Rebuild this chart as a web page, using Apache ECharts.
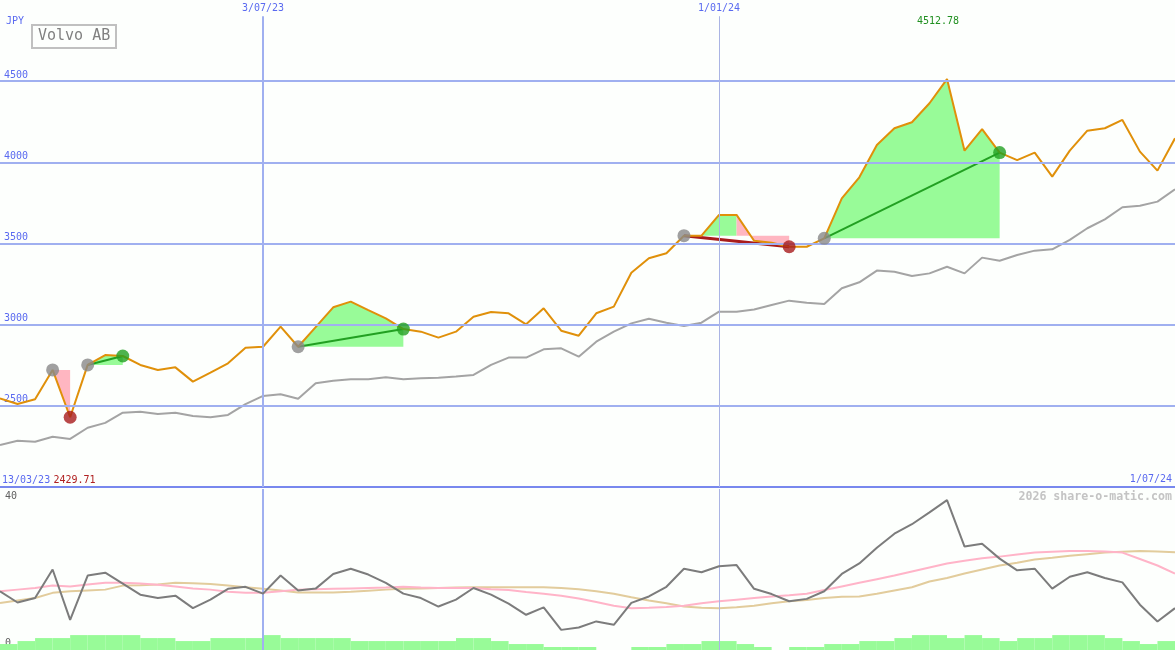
<!DOCTYPE html>
<html><head><meta charset="utf-8">
<script src="https://cdn.jsdelivr.net/npm/echarts@6/dist/echarts.min.js"></script>
<style>html,body{margin:0;padding:0;background:#fdfffd}#c{width:1175px;height:650px}</style>
</head><body><div id="c"></div>
<script>
// ---- data (weekly points, index 0 = first week) ----
const title = 'Volvo AB';
const currency = 'JPY';
const startDate = '13/03/23';
const endDate = '1/07/24';
const dateTickLabels = ['3/07/23', '1/01/24'];
const dateTickIndex = [15, 41];
const priceTicks = [2500, 3000, 3500, 4000, 4500];
const price = [2546,2511,2540,2721,2429.71,2752,2813,2807,2752,2721,2737,2649,2704,2762,2858,2864,2988,2864,2985,3107,
  3142,3090,3039,2973,2957,2920,2957,3049,3078,3070,3002,3101,2963,2932,3070,3111,3320,3409,3440,3548,
  3548,3676,3676,3517,3505,3480,3480,3532,3778,3908,4107,4210,4247,4364,4512.78,4072,4205,4060,4014,4060,
  3912,4072,4195,4210,4261,4066,3949,4148];
const priceMA = [2259,2285,2279,2310,2296,2365,2395,2458,2464,2450,2458,2437,2429,2444,2511,2561,2571,2544,2639,2655,
  2664,2664,2676,2664,2670,2673,2680,2690,2752,2797,2797,2848,2854,2803,2895,2957,3008,3037,3012,2992,
  3012,3080,3080,3094,3121,3148,3135,3127,3224,3261,3333,3326,3300,3316,3357,3316,3413,3394,3429,3456,
  3464,3522,3594,3649,3723,3733,3758,3834];
const segStart = [3, 5, 17, 39, 47];
const segEnd   = [4, 7, 23, 45, 57];
const segSplit = [3, 7, 23, 42, 57];
const osc = [14.6,11.8,12.9,20,7.5,18.5,19.2,16.5,13.75,12.9,13.5,10.4,12.5,15.2,15.7,14,18.5,14.8,15.25,18.9,
  20.2,18.75,16.7,14.0,12.9,10.8,12.5,15.4,13.75,11.5,8.75,10.6,5,5.6,7.1,6.25,11.7,13.3,15.7,20.2,
  19.3,20.8,21.1,15.2,13.9,12.1,12.7,14.6,18.9,21.5,25.4,28.9,31.25,34.2,37.25,25.7,26.4,22.7,19.8,20.2,
  15.25,18.2,19.3,17.9,16.8,11.25,7.1,10.4];
const oscFast = [14.6,15.0,15.4,16.0,15.8,16.25,16.7,16.7,16.5,16.2,15.8,15.3,15.0,14.5,14.2,14.2,14.6,15.0,15.1,15.2,
  15.3,15.4,15.5,15.7,15.5,15.4,15.4,15.4,15.1,14.9,14.4,14.0,13.5,12.8,11.9,11.0,10.4,10.5,10.7,11.0,
  11.6,12.1,12.5,12.9,13.3,13.6,14.0,14.9,15.8,16.7,17.6,18.5,19.5,20.5,21.5,22.2,22.8,23.2,23.7,24.2,
  24.4,24.6,24.6,24.5,24.2,22.6,21.0,19.0];
const oscSlow = [11.7,12.3,12.9,14.2,14.6,14.8,15.0,16.0,16.1,16.3,16.7,16.6,16.4,16.0,15.6,15.2,14.8,14.3,14.3,14.3,
  14.5,14.75,15.0,15.2,15.3,15.4,15.5,15.6,15.6,15.6,15.6,15.6,15.4,15.1,14.6,14.0,13.1,12.3,11.6,10.8,
  10.5,10.4,10.6,11.0,11.6,12.1,12.4,12.9,13.2,13.3,14.0,14.8,15.6,17.0,17.9,19.0,20.0,21.0,21.7,22.5,
  22.9,23.4,23.8,24.2,24.4,24.6,24.5,24.3];
const volume = [2,3,4,4,5,5,5,5,4,4,3,3,4,4,4,5,4,4,4,4,
  3,3,3,3,3,3,4,4,3,2,2,1,1,1,0,0,1,1,2,2,
  3,3,2,1,0,1,1,2,2,3,3,4,5,5,4,5,4,3,4,4,
  5,5,5,4,3,2,3,3];
const oscTicks = [0, 40];
const watermark = '2026 share-o-matic.com';

// ---- styles ----
const FONT = 'DejaVu Sans Mono';
const BLUE = '#5a6af0';
const GRIDC = '#a0b0f0';
const GREEN_FILL = '#98fb98';
const PINK_FILL = '#ffb6c1';
const N = price.length;
const idx = price.map((_, i) => i);
const minV = Math.min(...price), maxV = Math.max(...price);
const maxI = price.indexOf(maxV);

const chart = echarts.init(document.getElementById('c'));
const xAx = (gi, showLine) => ({
  type: 'value', gridIndex: gi, min: 0, max: N - 1,
  axisLabel: {show: false}, axisTick: {show: false}, splitLine: {show: false},
  axisLine: {show: showLine, onZero: false, lineStyle: {color: '#7888ee', width: 2}}
});

const option = {
  backgroundColor: '#fdfffd',
  animation: false,
  title: {
    text: title, left: 32, top: 25,
    borderColor: '#c0c0c0', borderWidth: 2, padding: [4, 6, 4, 6],
    textStyle: {color: '#808080', fontSize: 15, fontWeight: 'normal', fontFamily: FONT}
  },
  grid: [
    {left: 0, right: 0, top: 0, height: 487},
    {left: 0, right: 0, top: 489, height: 161}
  ],
  xAxis: [xAx(0, true), xAx(1, false)],
  yAxis: [
    {type: 'value', gridIndex: 0, min: 2000, max: 5000, interval: 500,
      splitLine: {show: false}, axisLine: {show: false}, axisTick: {show: false},
      axisLabel: {inside: true, margin: 4, verticalAlign: 'bottom', color: BLUE, fontSize: 10, fontFamily: FONT,
        padding: [0, 0, 1, 0],
        formatter: v => priceTicks.includes(v) ? String(v) : ''}},
    {type: 'value', gridIndex: 1, min: 0, max: 40, interval: 40,
      splitLine: {show: false}, axisLine: {show: false}, axisTick: {show: false},
      axisLabel: {inside: true, margin: 5, color: '#606060', fontSize: 10, fontFamily: FONT,
        verticalAlignMaxLabel: 'top', verticalAlignMinLabel: 'bottom', padding: [2, 0, 2, 0],
        formatter: v => oscTicks.includes(v) ? String(v) : ''}},
    {type: 'value', gridIndex: 1, min: 0, max: 54, show: false}
  ],
  series: [
    // grid lines & date lines (main panel)
    {type: 'line', xAxisIndex: 0, yAxisIndex: 0, data: [], z: 0, silent: true,
      markLine: {silent: true, symbol: 'none', animation: false,
        data: priceTicks.map(v => ({yAxis: v, lineStyle: {color: GRIDC, width: 2, type: 'solid'}, label: {show: false}}))
          .concat(dateTickIndex.map((d, k) => [
            {coord: [d, 4900], lineStyle: {color: k === 0 ? GRIDC : '#aab4e4', width: k === 0 ? 2 : 1, type: 'solid'},
              label: {show: true, position: 'start', distance: 3, formatter: dateTickLabels[k], color: BLUE, fontSize: 10, fontFamily: FONT}},
            {coord: [d, 2000]}
          ]))
      }},
    // date lines (lower panel)
    {type: 'line', xAxisIndex: 1, yAxisIndex: 1, data: [], z: 0, silent: true,
      markLine: {silent: true, symbol: 'none', animation: false, label: {show: false},
        data: dateTickIndex.map((d, k) => ({xAxis: d, lineStyle: {color: k === 0 ? GRIDC : '#aab4e4', width: k === 0 ? 2 : 1, type: 'solid'}}))}},
    // fills between price and entry level
    {type: 'custom', xAxisIndex: 0, yAxisIndex: 0, z: 1, silent: true,
      data: segStart.map(s => [s, price[s]]),
      renderItem: (params, api) => {
        const k = params.dataIndex;
        const a = segStart[k], b = segEnd[k], m = segSplit[k], L = price[a];
        const children = [];
        const poly = (from, to, color) => {
          if (to <= from) return;
          const pts = [];
          for (let i = from; i <= to; i++) pts.push(api.coord([i, price[i]]));
          pts.push(api.coord([to, L]));
          pts.push(api.coord([from, L]));
          children.push({type: 'polygon', shape: {points: pts}, style: {fill: color}});
        };
        poly(a, m, GREEN_FILL);
        poly(m, b, PINK_FILL);
        return {type: 'group', children};
      }},
    // slow average of price
    {type: 'line', xAxisIndex: 0, yAxisIndex: 0, z: 2, silent: true, symbol: 'none',
      data: idx.map(i => [i, priceMA[i]]), lineStyle: {color: '#a4a4a4', width: 2}},
    // trend lines start->end (multi-week holds only)
    {type: 'custom', xAxisIndex: 0, yAxisIndex: 0, z: 3, silent: true,
      data: segStart.map(s => [s, price[s]]),
      renderItem: (params, api) => {
        const k = params.dataIndex;
        const a = segStart[k], b = segEnd[k];
        if (b - a < 2) return null;
        const up = price[b] > price[a];
        const p1 = api.coord([a, price[a]]), p2 = api.coord([b, price[b]]);
        return {type: 'line', shape: {x1: p1[0], y1: p1[1], x2: p2[0], y2: p2[1]},
          style: {stroke: up ? '#22a022' : '#a81c1c', lineWidth: up ? 2 : 3}};
      }},
    // price
    {type: 'line', xAxisIndex: 0, yAxisIndex: 0, z: 4, silent: true, symbol: 'none',
      data: idx.map(i => [i, price[i]]), lineStyle: {color: '#e0900a', width: 2}},
    // markers
    {type: 'scatter', xAxisIndex: 0, yAxisIndex: 0, z: 5, silent: true, symbolSize: 13,
      data: segStart.map(s => ({value: [s, price[s]], itemStyle: {color: '#888888'}}))
        .concat(segEnd.map((e, k) => ({value: [e, price[e]],
          itemStyle: {color: price[e] > price[segStart[k]] ? '#22a022' : '#a81c1c'}})))},
    // volume blocks
    {type: 'custom', xAxisIndex: 1, yAxisIndex: 2, z: 3, silent: true,
      data: idx.map(i => [i, volume[i]]),
      renderItem: (params, api) => {
        const i = api.value(0), v = api.value(1);
        if (!v || i >= N - 1) return null;
        const p0 = api.coord([i, 0]), p1 = api.coord([i + 1, v]);
        return {type: 'rect', shape: {x: p0[0], y: p1[1], width: p1[0] - p0[0], height: p0[1] - p1[1]},
          style: {fill: GREEN_FILL}};
      }},
    // oscillator lines
    {type: 'line', xAxisIndex: 1, yAxisIndex: 1, z: 4, silent: true, symbol: 'none',
      data: idx.map(i => [i, oscSlow[i]]), lineStyle: {color: '#e2cc9c', width: 2}},
    {type: 'line', xAxisIndex: 1, yAxisIndex: 1, z: 4, silent: true, symbol: 'none',
      data: idx.map(i => [i, oscFast[i]]), lineStyle: {color: '#ffb4c8', width: 2}},
    {type: 'line', xAxisIndex: 1, yAxisIndex: 1, z: 5, silent: true, symbol: 'none',
      data: idx.map(i => [i, osc[i]]), lineStyle: {color: '#7c7c7c', width: 2}}
  ]
};
chart.setOption(option);

const maxPx = chart.convertToPixel({gridIndex: 0}, [maxI, maxV]);
chart.setOption({
  graphic: [
    {type: 'text', left: 6, top: 16, style: {text: currency, fill: BLUE, font: '10px ' + FONT}},
    {type: 'text', left: 2, top: 474, style: {
      text: '{d|' + startDate + '} {v|' + minV.toFixed(2) + '}',
      rich: {d: {fill: BLUE, font: '10px ' + FONT}, v: {fill: '#b02020', font: '10px ' + FONT}}}},
    {type: 'text', right: 3, top: 474, style: {text: endDate, fill: BLUE, font: '10px ' + FONT}},
    {type: 'text', x: maxPx[0] - 9, y: 21, style: {text: maxV.toFixed(2), fill: '#209020', font: '10px ' + FONT,
      align: 'center', verticalAlign: 'middle'}},
    {type: 'text', right: 3, top: 491, style: {text: watermark, fill: '#c4c4c4', font: 'bold 11.6px ' + FONT}}
  ]
});
</script></body></html>
